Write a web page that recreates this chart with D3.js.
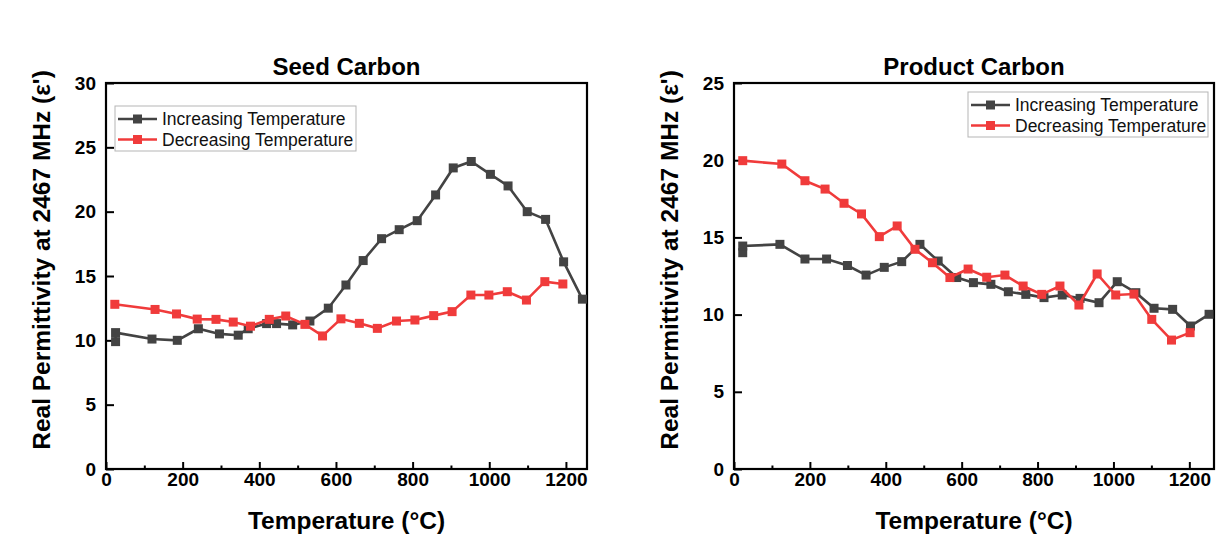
<!DOCTYPE html>
<html lang="en">
<head>
    <meta charset="UTF-8">
    <title>Seed / Product Carbon permittivity</title>
    <style>
        body { margin: 0; background: #fff; }
        svg { display: block; font-family: "Liberation Sans", Arial, sans-serif; }
    </style>
</head>
<body>
    <div id="container"></div>

    <script type="text/javascript" src="https://d3js.org/d3.v7.min.js"></script>
    <script type="text/javascript">
        // Seed Carbon
        var seedIncT = [25, 25, 120, 186, 241, 296, 345, 371, 419, 445, 487, 532, 580, 626, 671, 719, 765, 812, 860, 906, 953, 1003, 1049, 1099, 1147, 1194, 1243];
        var seedIncV = [9.9, 10.6, 10.1, 10.0, 10.9, 10.5, 10.4, 10.9, 11.3, 11.3, 11.2, 11.5, 12.5, 14.3, 16.2, 17.9, 18.6, 19.3, 21.3, 23.4, 23.9, 22.9, 22.0, 20.0, 19.4, 16.1, 13.2];
        var seedDecT = [23, 128, 184, 238, 287, 332, 377, 426, 469, 519, 565, 613, 661, 708, 758, 806, 855, 903, 952, 999, 1047, 1097, 1145, 1192];
        var seedDecV = [12.8, 12.4, 12.05, 11.65, 11.63, 11.42, 11.1, 11.63, 11.89, 11.24, 10.34, 11.67, 11.32, 10.93, 11.5, 11.58, 11.92, 12.23, 13.52, 13.52, 13.78, 13.13, 14.56, 14.38];

        // Product Carbon
        var prodIncT = [23, 23, 121, 187, 244, 299, 348, 396, 442, 490, 538, 587, 631, 677, 723, 769, 817, 865, 912, 962, 1010, 1059, 1107, 1156, 1203, 1252];
        var prodIncV = [14.01, 14.44, 14.55, 13.6, 13.6, 13.18, 12.56, 13.06, 13.43, 14.55, 13.47, 12.4, 12.07, 11.96, 11.48, 11.31, 11.1, 11.27, 11.05, 10.77, 12.13, 11.42, 10.41, 10.34, 9.26, 10.02];
        var prodDecT = [23, 126, 187, 240, 290, 336, 383, 430, 477, 523, 569, 617, 666, 714, 762, 811, 859, 909, 957, 1006, 1054, 1101, 1153, 1202];
        var prodDecV = [19.97, 19.75, 18.67, 18.13, 17.21, 16.52, 15.05, 15.74, 14.23, 13.36, 12.4, 12.95, 12.42, 12.56, 11.85, 11.31, 11.85, 10.62, 12.63, 11.27, 11.33, 9.69, 8.35, 8.83];

        var xTicks = [0, 200, 400, 600, 800, 1000, 1200];
        var xMinorTicks = [100, 300, 500, 700, 900, 1100];
        var seriesNames = ["Increasing Temperature", "Decreasing Temperature"];

        var incColor = "#434343",
            decColor = "#f03b3b";

        var svg = d3.select("#container")
            .append("svg")
            .attr("width", 1226)
            .attr("height", 539);

        var panels = [
            {
                title: "Seed Carbon",
                left: 106, right: 587, top: 83, bottom: 469,
                xMax: 1255, yMax: 30, yTicks: [0, 5, 10, 15, 20, 25, 30],
                yTitleX: 50,
                legend: { x: 115, y: 106, w: 241, h: 45 },
                inc: [seedIncT, seedIncV],
                dec: [seedDecT, seedDecV]
            },
            {
                title: "Product Carbon",
                left: 734, right: 1214, top: 83, bottom: 469,
                xMax: 1265, yMax: 25, yTicks: [0, 5, 10, 15, 20, 25],
                yTitleX: 678,
                legend: { x: 968, y: 92, w: 240, h: 45 },
                inc: [prodIncT, prodIncV],
                dec: [prodDecT, prodDecV]
            }
        ];

        panels.forEach(function(p) {
            var x = d3.scaleLinear().domain([0, p.xMax]).range([p.left, p.right]);
            var y = d3.scaleLinear().domain([0, p.yMax]).range([p.bottom, p.top]);
            var g = svg.append("g");

            // minor x ticks (inside)
            g.append("g")
                .attr("transform", "translate(0," + p.bottom + ")")
                .call(d3.axisBottom(x).tickValues(xMinorTicks).tickSizeInner(-3.5).tickSizeOuter(0).tickFormat(""))
                .call(function(s) { s.select(".domain").remove(); })
                .selectAll("line").attr("stroke-width", 2);

            // major x ticks
            var xa = g.append("g")
                .attr("transform", "translate(0," + p.bottom + ")")
                .call(d3.axisBottom(x).tickValues(xTicks).tickSizeInner(-7).tickSizeOuter(0).tickPadding(3).tickFormat(d3.format("d")));
            xa.select(".domain").remove();
            xa.selectAll("line").attr("stroke-width", 2);
            xa.selectAll("text")
                .attr("font-size", 19).attr("font-weight", "bold").attr("fill", "#000")
                .attr("font-family", "Liberation Sans, Arial, sans-serif");

            // y ticks
            var ya = g.append("g")
                .attr("transform", "translate(" + p.left + ",0)")
                .call(d3.axisLeft(y).tickValues(p.yTicks).tickSizeInner(-8).tickSizeOuter(0).tickPadding(10).tickFormat(d3.format("d")));
            ya.select(".domain").remove();
            ya.selectAll("line").attr("stroke-width", 2);
            ya.selectAll("text")
                .attr("font-size", 19).attr("font-weight", "bold").attr("fill", "#000")
                .attr("font-family", "Liberation Sans, Arial, sans-serif");

            // frame
            g.append("rect")
                .attr("x", p.left).attr("y", p.top)
                .attr("width", p.right - p.left).attr("height", p.bottom - p.top)
                .attr("fill", "none").attr("stroke", "#000").attr("stroke-width", 2.2);

            // series
            var line = d3.line()
                .x(function(d) { return x(d[0]); })
                .y(function(d) { return y(d[1]); });

            [[p.inc, incColor], [p.dec, decColor]].forEach(function(s) {
                var pts = d3.zip(s[0][0], s[0][1]);
                g.append("path")
                    .datum(pts)
                    .attr("d", line)
                    .attr("fill", "none")
                    .attr("stroke", s[1])
                    .attr("stroke-width", 2.6);
                g.selectAll(null)
                    .data(pts)
                    .enter()
                    .append("rect")
                    .attr("x", function(d) { return x(d[0]) - 4.5; })
                    .attr("y", function(d) { return y(d[1]) - 4.5; })
                    .attr("width", 9).attr("height", 9)
                    .attr("fill", s[1]);
            });

            // legend
            var lg = g.append("g").attr("transform", "translate(" + p.legend.x + "," + p.legend.y + ")");
            lg.append("rect")
                .attr("width", p.legend.w).attr("height", p.legend.h)
                .attr("fill", "#fff").attr("stroke", "#b5b5b5").attr("stroke-width", 1);
            [incColor, decColor].forEach(function(c, i) {
                var ry = 13 + i * 20.5;
                lg.append("line")
                    .attr("x1", 3).attr("x2", 42).attr("y1", ry).attr("y2", ry)
                    .attr("stroke", c).attr("stroke-width", 2.6);
                lg.append("rect")
                    .attr("x", 22.5 - 4.5).attr("y", ry - 4.5)
                    .attr("width", 9).attr("height", 9).attr("fill", c);
                lg.append("text")
                    .attr("x", 47).attr("y", ry)
                    .attr("dy", "0.35em")
                    .attr("font-size", 17.5)
                    .attr("fill", "#111")
                    .text(seriesNames[i]);
            });

            // titles
            g.append("text")
                .attr("x", (p.left + p.right) / 2).attr("y", 75)
                .attr("text-anchor", "middle")
                .attr("font-size", 24).attr("font-weight", "bold")
                .text(p.title);

            g.append("text")
                .attr("x", (p.left + p.right) / 2).attr("y", 529)
                .attr("text-anchor", "middle")
                .attr("font-size", 24.5).attr("font-weight", "bold")
                .text("Temperature (°C)");

            g.append("text")
                .attr("transform", "translate(" + p.yTitleX + ",260) rotate(-90)")
                .attr("text-anchor", "middle")
                .attr("font-size", 24.5).attr("font-weight", "bold")
                .text("Real Permittivity at 2467 MHz (ε')");
        });
    </script>
</body>
</html>
